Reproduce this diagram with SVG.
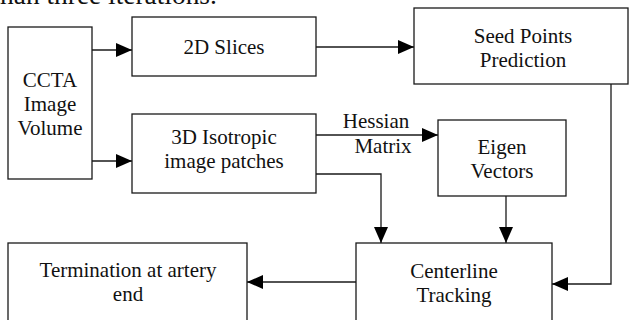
<svg xmlns="http://www.w3.org/2000/svg" width="629" height="320" viewBox="0 0 629 320">
<style>
.box{fill:#fff;stroke:#1a1a1a;stroke-width:1.3}
.t{font-family:"Liberation Serif","Times New Roman",serif;font-size:21px;fill:#111;text-anchor:middle}
.c{fill:none;stroke:#1a1a1a;stroke-width:1.3}
</style>
<defs>
<marker id="ah" markerUnits="userSpaceOnUse" markerWidth="16" markerHeight="14" refX="16" refY="7" orient="auto">
<path d="M0,0 L16,7 L0,14 z" fill="#000"/>
</marker>
</defs>
<rect width="629" height="320" fill="#fff"/>
<text x="-7.5" y="4" style="font-family:'Liberation Serif','Times New Roman',serif;font-size:27.4px;fill:#111">than three iterations.</text>
<g id="connectors">
<path class="c" d="M92,50 H132" marker-end="url(#ah)"/>
<path class="c" d="M92,161 H132" marker-end="url(#ah)"/>
<path class="c" d="M316,47 H414" marker-end="url(#ah)"/>
<path class="c" d="M316,135 H438" marker-end="url(#ah)"/>
<path class="c" d="M316,174 H381 V243" marker-end="url(#ah)"/>
<path class="c" d="M506,196 V243" marker-end="url(#ah)"/>
<path class="c" d="M611,84 V284 H552" marker-end="url(#ah)"/>
<path class="c" d="M356,282 H247" marker-end="url(#ah)"/>
<text class="t" x="376" y="128">Hessian</text>
<text class="t" x="383" y="153">Matrix</text>
</g>
<g id="ccta"><rect class="box" x="8" y="27" width="84" height="152"/>
<text class="t" x="50" y="87">CCTA</text><text class="t" x="50" y="111">Image</text><text class="t" x="50" y="135">Volume</text></g>
<g id="slices"><rect class="box" x="132" y="17" width="184" height="59"/>
<text class="t" x="224" y="54">2D Slices</text></g>
<g id="iso"><rect class="box" x="132" y="114" width="184" height="79"/>
<text class="t" x="224" y="144">3D Isotropic</text><text class="t" x="224" y="168">image patches</text></g>
<g id="seed"><rect class="box" x="414" y="8" width="214" height="76"/>
<text class="t" x="523" y="43">Seed Points</text><text class="t" x="523" y="67">Prediction</text></g>
<g id="eigen"><rect class="box" x="438" y="120" width="128" height="76"/>
<text class="t" x="502" y="154">Eigen</text><text class="t" x="502" y="178">Vectors</text></g>
<g id="centerline"><rect class="box" x="356" y="243" width="196" height="100"/>
<text class="t" x="454" y="278">Centerline</text><text class="t" x="454" y="302">Tracking</text></g>
<g id="termination"><rect class="box" x="8" y="243" width="239" height="100"/>
<text class="t" x="128" y="277">Termination at artery</text><text class="t" x="128" y="301">end</text></g>
</svg>
